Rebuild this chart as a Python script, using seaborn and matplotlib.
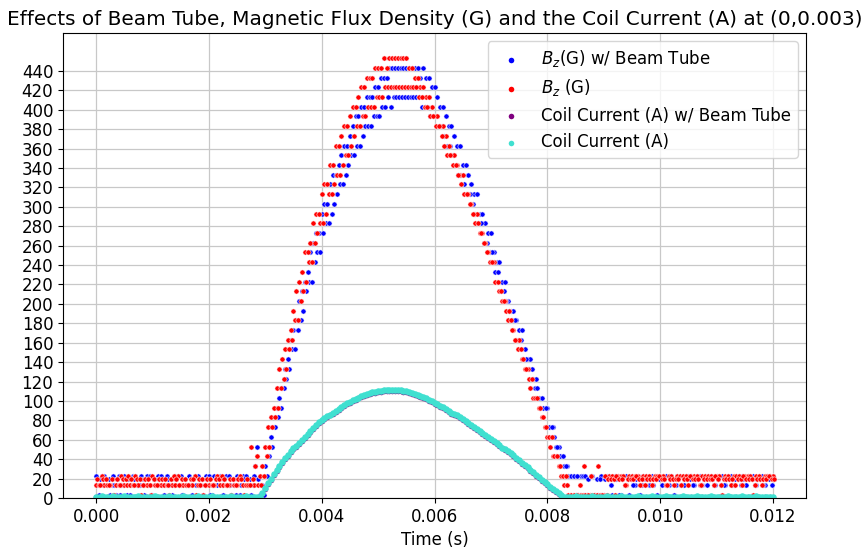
import numpy as np
import pandas as pd
import matplotlib
matplotlib.use("Agg")
import matplotlib.pyplot as plt
import seaborn as sns

# ---------------- data ----------------
SAMPLE_STEP = 0.00005          # s, sampling interval of the scope traces
BZ_PRE_START, BZ_PULSE_START, BZ_POST_START = 0.0, 0.0029, 0.00845
CUR_PRE_START, CUR_PULSE_START, CUR_POST_START = 0.0, 0.0029, 0.00835

# Bz with beam tube (blue) - two acquisitions
bz_tube_a_pre = [23, 3, 23, 23, 13, 3, 23, 3, 23, 13,
                 23, 3, 3, 23, 23, 13, 23, 3, 23, 23,
                 3, 13, 23, 23, 3, 23, 13, 3, 23, 23,
                 23, 3, 13, 23, 3, 23, 23, 13, 3, 23,
                 23, 3, 23, 13, 23, 3, 23, 23, 3, 13,
                 23, 3, 23, 23, 13, 3, 23, 53]
bz_tube_a_pulse = [3, 13, 33, 43, 63, 73, 93, 103, 113, 133,
                   143, 163, 173, 183, 203, 213, 223, 233, 253, 263,
                   273, 273, 293, 303, 303, 323, 333, 333, 343, 353,
                   363, 363, 373, 383, 393, 393, 403, 403, 413, 413,
                   413, 423, 423, 433, 433, 433, 443, 443, 443, 443,
                   443, 443, 443, 443, 443, 443, 443, 433, 443, 433,
                   433, 423, 423, 413, 403, 403, 393, 383, 383, 373,
                   363, 363, 343, 343, 333, 323, 313, 313, 293, 293,
                   283, 273, 273, 253, 243, 243, 223, 223, 203, 193,
                   193, 183, 173, 173, 153, 143, 143, 123, 123, 103,
                   103, 93, 93, 73, 73, 53, 53, 43, 33, 33, 23]
bz_tube_a_post = [23, 3, 3, 23, 3, 3, 3, 23, 3, 3,
                  23, 3, 23, 23, 3, 23, 23, 3, 23, 23,
                  3, 23, 13, 23, 3, 23, 23, 13, 23, 23,
                  3, 23, 23, 23, 13, 23, 3, 23, 23, 13,
                  23, 23, 23, 13, 23, 23, 13, 23, 23, 23,
                  13, 23, 23, 23, 13, 23, 23, 13, 23, 23,
                  23, 13, 23, 23, 23, 13, 23, 23, 13, 23,
                  23, 23]
bz_tube_b_pre = [13, 20, 13, 20, 20, 13, 13, 20, 3, 13,
                 20, 20, 13, 20, 13, 13, 20, 20, 13, 3,
                 20, 13, 20, 13, 13, 20, 20, 13, 20, 13,
                 3, 20, 13, 20, 20, 13, 13, 20, 13, 20,
                 3, 13, 20, 20, 13, 20, 13, 13, 20, 3,
                 20, 13, 20, 13, 20, 13, 33, 20]
bz_tube_b_pulse = [3, 3, 23, 43, 53, 73, 83, 93, 113, 123,
                   133, 153, 153, 173, 183, 193, 213, 223, 223, 243,
                   253, 253, 273, 283, 283, 293, 303, 313, 323, 323,
                   333, 343, 353, 353, 363, 363, 373, 383, 383, 383,
                   393, 393, 393, 403, 403, 413, 403, 413, 413, 413,
                   413, 413, 413, 413, 413, 413, 413, 403, 403, 403,
                   393, 393, 393, 383, 383, 373, 363, 363, 353, 343,
                   333, 333, 323, 313, 313, 303, 293, 283, 283, 263,
                   263, 253, 253, 233, 233, 213, 213, 203, 193, 183,
                   183, 163, 163, 143, 143, 133, 133, 113, 113, 93,
                   93, 93, 73, 73, 63, 53, 43, 43, 33, 23, 23]
bz_tube_b_post = [23, 23, 3, 23, 23, 20, 23, 3, 20, 20,
                  3, 20, 20, 13, 20, 20, 3, 20, 13, 20,
                  20, 13, 20, 20, 13, 20, 20, 13, 13, 20,
                  20, 13, 20, 13, 20, 20, 13, 20, 13, 13,
                  20, 20, 13, 20, 20, 13, 20, 13, 20, 20,
                  13, 20, 13, 13, 20, 20, 13, 20, 20, 13,
                  20, 13, 20, 20, 13, 20, 20, 13, 20, 20,
                  13, 20]

# Bz without beam tube (red) - two acquisitions
bz_a_pre = [13, 13, 23, 13, 13, 13, 3, 13, 13, 23,
            13, 13, 13, 13, 23, 13, 3, 13, 13, 13,
            23, 13, 13, 13, 13, 13, 3, 13, 13, 23,
            13, 13, 13, 13, 13, 23, 13, 13, 3, 13,
            13, 13, 13, 23, 13, 13, 13, 13, 3, 13,
            13, 23, 13, 13, 13, 53, 13, 43]
bz_a_pulse = [23, 33, 53, 73, 83, 93, 113, 133, 143, 153,
              163, 173, 193, 213, 223, 233, 253, 253, 263, 283,
              293, 293, 313, 323, 323, 343, 343, 363, 363, 373,
              383, 383, 393, 403, 403, 413, 423, 423, 433, 433,
              433, 443, 443, 443, 453, 443, 453, 453, 453, 453,
              453, 453, 453, 443, 443, 433, 433, 423, 423, 413,
              413, 403, 393, 393, 383, 383, 373, 363, 353, 353,
              343, 333, 333, 313, 313, 303, 293, 293, 273, 273,
              263, 253, 243, 243, 223, 213, 203, 203, 183, 183,
              173, 163, 163, 143, 133, 133, 113, 103, 103, 93,
              83, 73, 63, 53, 43, 43, 33, 23, 13, 13, 3]
bz_a_post = [3, 3, 3, 3, 33, 3, 3, 3, 3, 33,
             3, 3, 3, 23, 23, 3, 23, 23, 23, 13,
             23, 23, 23, 23, 13, 23, 23, 23, 13, 23,
             23, 23, 23, 13, 23, 23, 13, 23, 23, 23,
             23, 13, 23, 23, 23, 13, 23, 23, 23, 23,
             13, 23, 23, 3, 23, 23, 13, 23, 23, 23,
             13, 23, 23, 23, 3, 23, 23, 13, 23, 23,
             23, 23]
bz_b_pre = [20, 13, 20, 20, 13, 20, 3, 20, 13, 20,
            20, 23, 20, 13, 20, 20, 13, 20, 20, 3,
            20, 13, 20, 20, 20, 13, 20, 23, 20, 13,
            20, 20, 13, 20, 20, 3, 20, 20, 13, 20,
            20, 13, 20, 20, 23, 20, 13, 20, 20, 13,
            20, 20, 3, 20, 13, 20, 33, 13]
bz_b_pulse = [13, 23, 43, 53, 73, 83, 93, 113, 123, 133,
              153, 163, 183, 183, 203, 213, 223, 243, 243, 263,
              273, 283, 283, 293, 313, 313, 323, 333, 333, 343,
              353, 353, 363, 373, 383, 383, 393, 393, 403, 403,
              403, 413, 413, 413, 423, 423, 423, 423, 423, 423,
              423, 423, 423, 423, 423, 423, 413, 413, 403, 403,
              393, 393, 383, 383, 373, 363, 353, 353, 343, 343,
              333, 323, 313, 313, 303, 293, 283, 283, 273, 263,
              253, 243, 243, 223, 223, 213, 203, 193, 193, 173,
              163, 153, 153, 143, 133, 123, 123, 103, 103, 93,
              83, 73, 63, 63, 43, 43, 33, 23, 23, 3, 3]
bz_b_post = [3, 3, 13, 3, 3, 3, 23, 3, 3, 3,
             3, 23, 20, 20, 20, 23, 20, 20, 13, 20,
             20, 20, 23, 20, 20, 13, 20, 20, 20, 20,
             23, 20, 20, 13, 20, 20, 20, 20, 13, 20,
             20, 23, 20, 20, 20, 13, 20, 20, 20, 20,
             23, 20, 13, 20, 20, 20, 20, 13, 20, 20,
             23, 20, 20, 20, 13, 20, 20, 20, 20, 23,
             20, 20]

# Coil current (A)
cur_pre = [1.5, 1.4, 1.6, 1.5, 1.5, 1.3, 1.6, 1.5, 1.4, 1.5,
           1.6, 1.5, 1.4, 1.5, 1.5, 1.6, 1.4, 1.5, 1.5, 1.3,
           1.5, 1.6, 1.5, 1.4, 1.5, 1.5, 1.6, 1.5, 1.4, 1.5,
           1.5, 1.6, 1.5, 1.3, 1.5, 1.4, 1.6, 1.5, 1.5, 1.4,
           1.5, 1.6, 1.5, 1.4, 1.5, 1.5, 1.3, 1.5, 1.6, 1.5,
           1.4, 1.5, 1.5, 1.6, 1.4, 1.5, 1.5, 1.4]
cur_pulse = [1, 5, 10, 15, 20, 25, 29, 33, 37, 41,
             44, 48, 51, 54, 57, 60, 63, 66, 69, 72,
             75, 78, 80, 82, 84, 86, 88, 90, 92, 94,
             96, 97.5, 99, 100.5, 102, 103.5, 105, 106, 107, 108,
             109, 109.5, 110, 110.5, 111, 111, 111, 111, 111, 111,
             111, 110.5, 110, 109, 108, 107, 106, 105, 104, 102.5,
             101, 99.5, 98, 96.5, 95, 93.5, 92, 90, 88, 86.5,
             85, 83, 81, 79, 77, 75, 73, 71, 69, 67,
             65, 63, 61, 59, 57, 54.5, 52, 50, 48, 46,
             44, 41.5, 39, 36.5, 34, 31.5, 29, 26.5, 24, 21.5,
             19, 16.5, 14, 11.5, 9, 7, 5, 3, 1]
cur_post = [1.4, 1.5, 1.5, 1.6, 1.4, 1.5, 1.5, 1.3, 1.5, 1.6,
            1.5, 1.4, 1.5, 1.5, 1.6, 1.5, 1.4, 1.5, 1.5, 1.6,
            1.4, 1.5, 1.5, 1.3, 1.5, 1.6, 1.5, 1.4, 1.5, 1.5,
            1.6, 1.5, 1.4, 1.5, 1.5, 1.6, 1.4, 1.5, 1.5, 1.3,
            1.5, 1.6, 1.5, 1.4, 1.5, 1.5, 1.6, 1.5, 1.4, 1.5,
            1.5, 1.6, 1.4, 1.5, 1.5, 1.3, 1.5, 1.6, 1.5, 1.4,
            1.5, 1.5, 1.6, 1.5, 1.4, 1.5, 1.5, 1.6, 1.4, 1.5,
            1.5, 1.3, 1.5, 1.5]

# Coil current with beam tube (A)
cur_tube_pre = [1.2, 1.3, 1.2, 1.1, 1.3, 1.2, 1.2, 1.3, 1.1, 1.2,
                1.3, 1.2, 1.2, 1.1, 1.3, 1.2, 1.2, 1.3, 1.2, 1.1,
                1.2, 1.3, 1.2, 1.2, 1.1, 1.3, 1.2, 1.2, 1.3]
cur_tube_pulse = [0.5, 4, 9, 14, 19, 24, 28, 32, 36, 40,
                  43, 47, 50, 53, 56, 59, 62, 65, 68, 71,
                  74, 77, 79, 81, 83, 85, 87, 89, 91, 93,
                  95, 96.5, 98, 99.5, 101, 102.5, 104, 105, 106, 107,
                  108, 108.5, 109, 109.5, 110, 110, 110, 110, 110, 110,
                  110, 109.5, 109, 108, 107, 106, 105, 104, 103, 101.5,
                  100, 98.5, 97, 95.5, 94, 92.5, 91, 89, 87, 85.5,
                  84, 82, 80, 78, 76, 74, 72, 70, 68, 66,
                  64, 62, 60, 58, 56, 53.5, 51, 49, 47, 45,
                  43, 40.5, 38, 35.5, 33, 30.5, 28, 25.5, 23, 20.5,
                  18, 15.5, 13, 10.5, 8, 6, 4, 2, 0.5]
cur_tube_post = [1.2, 1.3, 1.2, 1.1, 1.3, 1.2, 1.2, 1.3, 1.1, 1.2,
                 1.3, 1.2, 1.2, 1.1, 1.3, 1.2, 1.2, 1.3, 1.2, 1.1,
                 1.2, 1.3, 1.2, 1.2, 1.1, 1.3, 1.2, 1.2, 1.3, 1.2,
                 1.1, 1.2, 1.3, 1.2, 1.2, 1.3, 1.2]

LABELS = [r"$B_z$(G) w/ Beam Tube", r"$B_z$ (G)",
          "Coil Current (A) w/ Beam Tube", "Coil Current (A)"]
COLORS = ["blue", "red", "purple", "turquoise"]
TITLE = "Effects of Beam Tube, Magnetic Flux Density (G) and the Coil Current (A) at (0,0.003)"
Y_TICKS = list(range(0, 441, 20))
X_TICKS = [0.000, 0.002, 0.004, 0.006, 0.008, 0.010, 0.012]


def segment_times(start, values, step):
    return [start + i * step for i in range(len(values))]


def build_trace(segments):
    t, v = [], []
    for start, vals, step in segments:
        t += segment_times(start, vals, step)
        v += list(vals)
    return pd.DataFrame({"t": t, "v": v})


bz_tube = pd.concat([
    build_trace([(BZ_PRE_START, bz_tube_a_pre, SAMPLE_STEP),
                 (BZ_PULSE_START, bz_tube_a_pulse, SAMPLE_STEP),
                 (BZ_POST_START, bz_tube_a_post, SAMPLE_STEP)]),
    build_trace([(BZ_PRE_START + SAMPLE_STEP / 2, bz_tube_b_pre, SAMPLE_STEP),
                 (BZ_PULSE_START + SAMPLE_STEP / 2, bz_tube_b_pulse, SAMPLE_STEP),
                 (BZ_POST_START + SAMPLE_STEP / 2, bz_tube_b_post, SAMPLE_STEP)]),
])
bz_free = pd.concat([
    build_trace([(BZ_PRE_START, bz_a_pre, SAMPLE_STEP),
                 (BZ_PULSE_START, bz_a_pulse, SAMPLE_STEP),
                 (BZ_POST_START, bz_a_post, SAMPLE_STEP)]),
    build_trace([(BZ_PRE_START + SAMPLE_STEP / 2, bz_b_pre, SAMPLE_STEP),
                 (BZ_PULSE_START + SAMPLE_STEP / 2, bz_b_pulse, SAMPLE_STEP),
                 (BZ_POST_START + SAMPLE_STEP / 2, bz_b_post, SAMPLE_STEP)]),
])
cur_tube = build_trace([(CUR_PRE_START, cur_tube_pre, 2 * SAMPLE_STEP),
                        (CUR_PULSE_START, cur_tube_pulse, SAMPLE_STEP),
                        (CUR_POST_START, cur_tube_post, 2 * SAMPLE_STEP)])
cur_free = build_trace([(CUR_PRE_START, cur_pre, SAMPLE_STEP),
                        (CUR_PULSE_START, cur_pulse, SAMPLE_STEP),
                        (CUR_POST_START, cur_post, SAMPLE_STEP)])

# ---------------- plot ----------------
plt.rcParams["font.size"] = 12
fig = plt.figure(figsize=(8.61, 5.5), dpi=100)
ax = fig.add_axes([63 / 861, 52 / 550, 743 / 861, 465 / 550])

sns.scatterplot(data=bz_tube, x="t", y="v", color=COLORS[0], s=14, label=LABELS[0], ax=ax, linewidth=0.4)
sns.scatterplot(data=bz_free, x="t", y="v", color=COLORS[1], s=14, label=LABELS[1], ax=ax, linewidth=0.4)
sns.scatterplot(data=cur_tube, x="t", y="v", color=COLORS[2], s=16, label=LABELS[2], ax=ax, linewidth=0)
sns.scatterplot(data=cur_free, x="t", y="v", color=COLORS[3], s=22, label=LABELS[3], ax=ax, linewidth=0)

ax.set_xlim(-0.000585, 0.012585)
ax.set_ylim(0, 479)
ax.set_yticks(Y_TICKS)
ax.set_xticks(X_TICKS)
ax.set_xticklabels([f"{x:.3f}" for x in X_TICKS])
ax.grid(True, color="#c8c8c8", linewidth=0.9)
ax.set_axisbelow(True)
ax.set_xlabel("Time (s)", fontsize=12)
ax.set_ylabel("")
ax.set_title(TITLE, fontsize=14.4)
ax.tick_params(labelsize=12)
leg = ax.legend(loc="upper right", fontsize=12)
for h in leg.legend_handles:
    h.set_sizes([16])
    h.set_linewidth(0)

fig.savefig("out.png", dpi=100)
